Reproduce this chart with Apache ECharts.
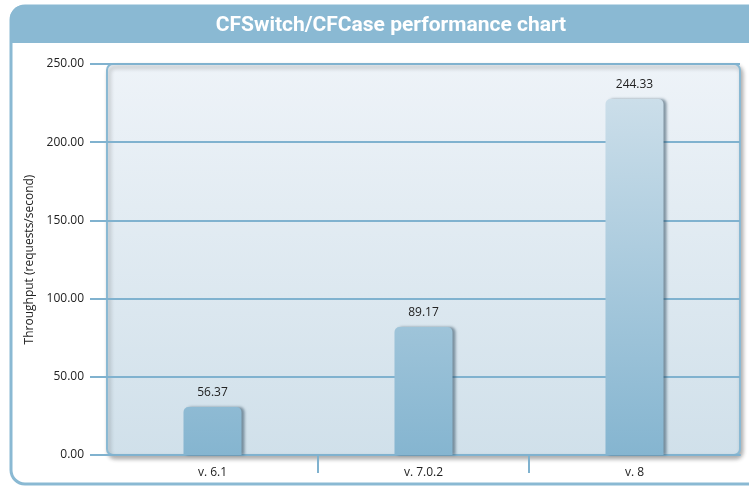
<!DOCTYPE html>
<html>
<head>
<meta charset="utf-8">
<script src="https://cdn.jsdelivr.net/npm/echarts@6/dist/echarts.min.js"></script>
<style>
  html, body { margin: 0; padding: 0; background: #fff; }
  #chart { width: 749px; height: 487px; }
</style>
</head>
<body>
<div id="chart"></div>
<script>
// categories on the x axis
var versions = ['v. 6.1', 'v. 7.0.2', 'v. 8'];
// bar heights as drawn in the picture
var barHeights = [30.7, 81.8, 227.6];
// numbers printed above the bars
var barLabels = ['56.37', '89.17', '244.33'];

var frameColor = '#8ab9d3';
var lineColor = '#80b2cf';

var myChart = echarts.init(document.getElementById('chart'));

myChart.setOption({
  animation: false,
  textStyle: { fontFamily: "'Open Sans', 'Noto Sans', sans-serif" },
  title: {
    text: 'CFSwitch/CFCase performance chart',
    left: 386,
    top: 10,
    textAlign: 'center',
    textStyle: {
      color: '#fff',
      fontSize: 21,
      fontWeight: 'bold',
      fontFamily: "'Liberation Sans Narrow', 'Roboto', sans-serif"
    }
  },
  graphic: [
    // outer frame
    {
      type: 'rect', z: -20, silent: true,
      shape: { x: 11, y: 6, width: 780, height: 478, r: 14 },
      style: { fill: '#fff', stroke: frameColor, lineWidth: 3 }
    },
    // title bar
    {
      type: 'rect', z: -19, silent: true,
      shape: { x: 10, y: 5, width: 780, height: 38, r: [14, 0, 0, 0] },
      style: { fill: frameColor }
    },
    // plot panel
    {
      type: 'rect', z: -18, silent: true,
      shape: { x: 107, y: 64, width: 633, height: 391, r: 6 },
      style: {
        fill: new echarts.graphic.LinearGradient(0, 0, 0, 1, [
          { offset: 0, color: '#eef3f8' },
          { offset: 1, color: '#d0e0ea' }
        ]),
        stroke: frameColor,
        lineWidth: 2,
        shadowBlur: 4,
        shadowOffsetX: 2,
        shadowOffsetY: 3,
        shadowColor: 'rgba(0,0,0,0.3)'
      }
    }
  ],
  grid: { left: 107, right: 9, top: 64, bottom: 32 },
  xAxis: [
    {
      type: 'category',
      data: versions,
      axisLine: { show: true, lineStyle: { color: lineColor, width: 2 } },
      axisTick: { show: false },
      axisLabel: { color: '#222', fontSize: 12, margin: 12 }
    },
    {
      // only carries the separator ticks between the categories
      type: 'value',
      position: 'bottom',
      min: 0,
      max: 3,
      interval: 1,
      axisLine: { show: false },
      axisLabel: { show: false },
      splitLine: { show: false },
      axisTick: {
        show: true,
        length: 18,
        customValues: [1, 2],
        lineStyle: { color: lineColor, width: 2 }
      }
    }
  ],
  yAxis: {
    type: 'value',
    min: 0,
    max: 250,
    interval: 50,
    name: 'Throughput (requests/second)',
    nameLocation: 'middle',
    nameGap: 64,
    nameTextStyle: { color: '#222', fontSize: 12 },
    axisLine: { show: false },
    axisTick: { show: true, inside: false, length: 17, lineStyle: { color: lineColor, width: 2 } },
    axisLabel: {
      color: '#222',
      fontSize: 12,
      margin: 23,
      formatter: function (v) { return v.toFixed(2); }
    },
    splitLine: { show: true, lineStyle: { color: lineColor, width: 2 } }
  },
  series: [
    {
      type: 'bar',
      data: barHeights,
      barWidth: 58,
      itemStyle: {
        borderRadius: [5, 5, 0, 0],
        color: new echarts.graphic.LinearGradient(0, 64, 0, 455, [
          { offset: 0, color: '#d2e2ec' },
          { offset: 1, color: '#85b5d0' }
        ], true),
        shadowBlur: 3,
        shadowOffsetX: 3,
        shadowOffsetY: 0,
        shadowColor: 'rgba(40,70,90,0.55)'
      },
      label: {
        show: true,
        position: 'top',
        distance: 8,
        color: '#222',
        fontSize: 12,
        formatter: function (p) { return barLabels[p.dataIndex]; }
      }
    }
  ]
});
</script>
</body>
</html>
